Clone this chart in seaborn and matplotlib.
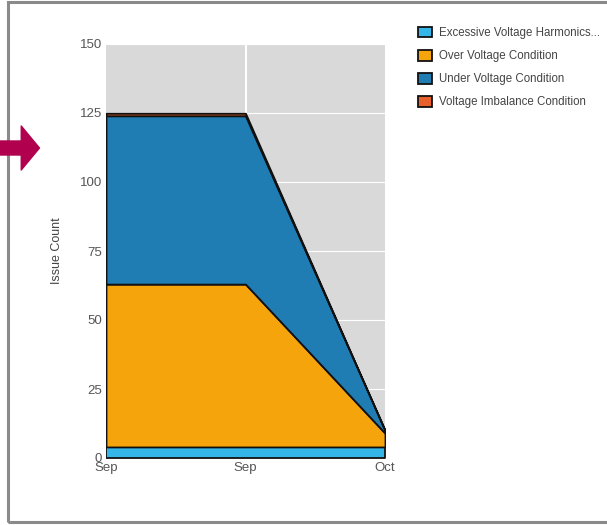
import pandas as pd
import matplotlib.pyplot as plt
import matplotlib.patches as mpatches
import seaborn as sns

# chart values
months = ["Sep", "Sep", "Oct"]
excessive_harmonics = [4, 4, 4]
over_voltage = [59, 59, 5]
under_voltage = [61, 61, 1]
voltage_imbalance = [0.9, 0.9, 0]
series_names = ["Excessive Voltage Harmonics...", "Over Voltage Condition",
                "Under Voltage Condition", "Voltage Imbalance Condition"]
series_colors = ["#35b6e8", "#f5a40c", "#1f7db3", "#e8612c"]
y_ticks = [0, 25, 50, 75, 100, 125, 150]

df = pd.DataFrame({
    series_names[0]: excessive_harmonics,
    series_names[1]: over_voltage,
    series_names[2]: under_voltage,
    series_names[3]: voltage_imbalance,
})

sns.set_style("darkgrid", {"axes.facecolor": "#d9d9d9", "grid.color": "white",
                           "grid.linewidth": 1.5})
plt.rcParams["font.family"] = ["Liberation Sans", "DejaVu Sans"]

fig = plt.figure(figsize=(6.07, 5.25), dpi=100)
ax = fig.add_axes([106 / 607, 1 - 458 / 525, (385 - 106) / 607, (458 - 44) / 525])

x = list(range(len(months)))
polys = ax.stackplot(x, [df[c].values for c in series_names], colors=series_colors,
                     edgecolor="#111111", linewidth=1.3, labels=series_names)

ax.set_xlim(0, 2)
ax.set_ylim(0, 150)
ax.set_xticks(x)
ax.set_xticklabels(months)
ax.set_yticks(y_ticks)
ax.grid(axis="x", visible=False)
ax.axvline(1, color="white", linewidth=1.5, zorder=0)
ax.tick_params(axis="both", colors="#555555", labelsize=9.5, length=0, pad=3)
ax.set_ylabel("Issue Count", color="#444444", fontsize=9, labelpad=12)
for s in ax.spines.values():
    s.set_visible(False)

leg = fig.legend(polys, series_names, loc="upper left", bbox_to_anchor=(0.672, 0.968),
                 frameon=False, fontsize=8.3, handlelength=1.2, handleheight=1.0,
                 handletextpad=0.6, labelspacing=0.95, labelcolor="#444444")

# screenshot frame and pointer arrow
fig.patches.append(mpatches.Rectangle((8 / 607, 3 / 525), 1.1, 1 - 5 / 525,
                                      transform=fig.transFigure, fill=False,
                                      edgecolor="#8a8a8a", linewidth=2.2))
fig.patches.append(mpatches.FancyArrow(-0.01, 1 - 148 / 525, 0.045, 0,
                                       width=14 / 525, head_width=44 / 525,
                                       head_length=0.03, length_includes_head=False,
                                       transform=fig.transFigure, color="#b0004e",
                                       joinstyle="round"))

plt.savefig("out.png", dpi=100)
